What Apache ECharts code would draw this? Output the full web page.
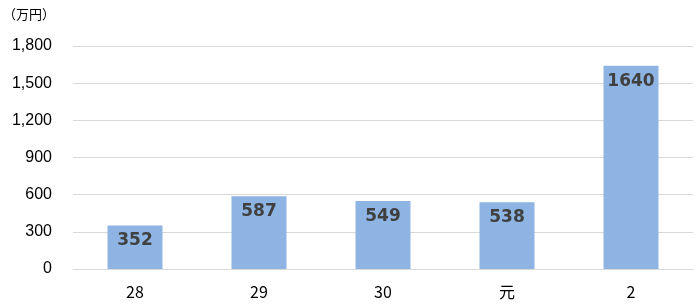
<!DOCTYPE html>
<html><head><meta charset="utf-8">
<script src="https://cdn.jsdelivr.net/npm/echarts@6/dist/echarts.min.js"></script>
<style>html,body{margin:0;padding:0;background:#fff}#c{width:699px;height:308px}</style>
</head><body><div id="c"></div>
<script>
const categories = ['28', '29', '30', '元', '2'];
const values = [352, 587, 549, 538, 1640];
const yMin = 0, yMax = 1800, yStep = 300;
const unitLabel = '（万円）';

const chart = echarts.init(document.getElementById('c'));
chart.setOption({
  animation: false,
  textStyle: { fontFamily: '"Noto Sans CJK JP", "Liberation Sans", sans-serif' },
  graphic: [{ type: 'text', left: 3, top: 8, style: { text: unitLabel, font: '13px "Noto Sans CJK JP", sans-serif', fill: '#000' } }],
  grid: { left: 73, right: 6, top: 46, bottom: 39 },
  xAxis: {
    type: 'category', data: categories,
    axisLine: { lineStyle: { color: '#d9d9d9' } },
    axisTick: { show: false },
    axisLabel: { color: '#000', fontSize: 16, margin: 15, fontFamily: '"Noto Sans CJK JP", "Liberation Sans", sans-serif' }
  },
  yAxis: {
    type: 'value', min: yMin, max: yMax, interval: yStep,
    axisLine: { show: false }, axisTick: { show: false },
    splitLine: { lineStyle: { color: '#d9d9d9' } },
    axisLabel: { color: '#000', fontSize: 16, margin: 21, fontFamily: '"Liberation Sans", sans-serif',
      formatter: v => v.toLocaleString('en-US') }
  },
  series: [{
    type: 'bar', data: values, barWidth: 55,
    itemStyle: { color: '#8DB4E2' },
    label: { show: true, position: 'insideTop', distance: 7, color: '#404040', fontSize: 17, fontWeight: 'bold', fontFamily: '"DejaVu Sans", sans-serif' }
  }]
});
</script></body></html>
